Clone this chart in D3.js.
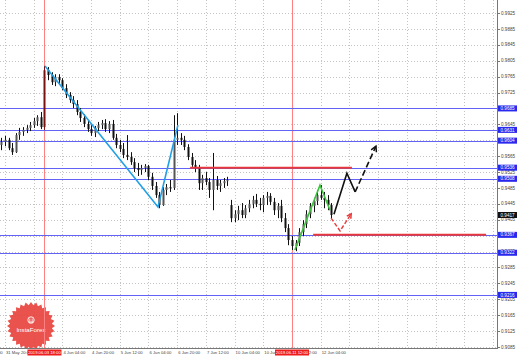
<!DOCTYPE html>
<html>
<head>
<meta charset="utf-8">
<script src="https://cdn.jsdelivr.net/npm/d3@7"></script>
<style>
  body { margin: 0; background: #fff; }
  svg { display: block; font-family: "Liberation Sans", Arial, sans-serif; }
</style>
</head>
<body>
<div id="chart"></div>
<script>
// H2 bars
var opens = [0.9593,0.9601,0.9606,0.9585,0.9575,0.9618,0.9626,0.9631,0.9636,0.9643,0.9653,0.9663,0.9638,0.9781,0.9769,0.9751,0.9764,0.9756,0.9736,0.9719,
  0.9706,0.9696,0.9676,0.9661,0.9646,0.9633,0.9623,0.9636,0.9643,0.9648,0.9633,0.9646,0.9611,0.9593,0.9583,0.9568,0.9563,0.9550,0.9535,0.9530,
  0.9535,0.9540,0.9513,0.9490,0.9467,0.9442,0.9480,0.9487,0.9485,0.9606,0.9611,0.9606,0.9588,0.9563,0.9543,0.9535,0.9497,0.9510,0.9500,0.9480,
  0.9505,0.9490,0.9497,0.9502,0.9442,0.9409,0.9419,0.9429,0.9417,0.9434,0.9445,0.9455,0.9445,0.9442,0.9460,0.9465,0.9450,0.9429,0.9440,0.9409,
  0.9384,0.9354,0.9339,0.9347,0.9374,0.9394,0.9419,0.9440,0.9452,0.9467,0.9460,0.9455,0.9442];
var highs = [0.9611,0.9616,0.9611,0.9598,0.9623,0.9636,0.9638,0.9643,0.9651,0.9661,0.9668,0.9676,0.9792,0.9789,0.9776,0.9771,0.9771,0.9761,0.9746,0.9726,
  0.9716,0.9706,0.9686,0.9671,0.9656,0.9643,0.9641,0.9651,0.9656,0.9658,0.9653,0.9656,0.9621,0.9606,0.9598,0.9618,0.9575,0.9560,0.9548,0.9543,
  0.9545,0.9543,0.9523,0.9500,0.9475,0.9487,0.9495,0.9505,0.9668,0.9673,0.9623,0.9616,0.9595,0.9573,0.9555,0.9543,0.9518,0.9525,0.9510,0.9573,
  0.9515,0.9505,0.9510,0.9513,0.9455,0.9429,0.9440,0.9447,0.9442,0.9455,0.9465,0.9470,0.9460,0.9467,0.9475,0.9472,0.9460,0.9447,0.9455,0.9422,
  0.9394,0.9364,0.9354,0.9384,0.9404,0.9429,0.9447,0.9460,0.9480,0.9492,0.9475,0.9467,0.9447];
var lows = [0.9580,0.9590,0.9580,0.9568,0.9573,0.9606,0.9616,0.9623,0.9628,0.9636,0.9641,0.9633,0.9631,0.9756,0.9744,0.9741,0.9746,0.9731,0.9711,0.9699,
  0.9686,0.9668,0.9651,0.9638,0.9626,0.9616,0.9613,0.9628,0.9633,0.9626,0.9623,0.9606,0.9585,0.9575,0.9560,0.9555,0.9543,0.9525,0.9515,0.9518,
  0.9525,0.9505,0.9480,0.9460,0.9434,0.9440,0.9467,0.9475,0.9480,0.9593,0.9593,0.9580,0.9555,0.9538,0.9525,0.9480,0.9480,0.9492,0.9460,0.9429,
  0.9480,0.9475,0.9485,0.9490,0.9399,0.9399,0.9404,0.9409,0.9409,0.9424,0.9434,0.9437,0.9429,0.9424,0.9442,0.9442,0.9417,0.9409,0.9399,0.9374,
  0.9341,0.9329,0.9326,0.9339,0.9364,0.9384,0.9409,0.9424,0.9442,0.9455,0.9434,0.9429,0.9409];
var closes = [0.9601,0.9606,0.9585,0.9575,0.9618,0.9626,0.9631,0.9636,0.9643,0.9653,0.9663,0.9638,0.9781,0.9769,0.9751,0.9764,0.9756,0.9736,0.9719,0.9706,
  0.9696,0.9676,0.9661,0.9646,0.9633,0.9623,0.9636,0.9643,0.9648,0.9633,0.9646,0.9611,0.9593,0.9583,0.9568,0.9563,0.9550,0.9535,0.9530,0.9535,
  0.9540,0.9513,0.9490,0.9467,0.9442,0.9480,0.9487,0.9485,0.9606,0.9611,0.9606,0.9588,0.9563,0.9543,0.9535,0.9497,0.9510,0.9500,0.9480,0.9505,
  0.9490,0.9497,0.9502,0.9505,0.9409,0.9419,0.9429,0.9417,0.9434,0.9445,0.9455,0.9445,0.9442,0.9460,0.9465,0.9450,0.9429,0.9440,0.9409,0.9384,
  0.9354,0.9339,0.9347,0.9374,0.9394,0.9419,0.9440,0.9452,0.9467,0.9460,0.9455,0.9442,0.9417];

var yTicks = [0.9925,0.9885,0.9845,0.9805,0.9765,0.9725,0.9685,0.9645,0.9605,0.9565,0.9525,0.9485,0.9445,0.9405,0.9365,0.9325,0.9285,0.9245,0.9205,0.9165,0.9125,0.9085];
var levels = [0.9685,0.9631,0.9604,0.9536,0.9508,0.9367,0.9322,0.9216];
var lastPrice = 0.9417;

var gridBars = [-7,1,9,17,25,33,41,49,57,65,73,81,89,97,105,113,121,129,137];
var labelBars = [-7,1,17,25,33,41,49,57,65,73,81,89];
var timeLabels = ["31 May 04:00","31 May 20:00","4 Jun 04:00","4 Jun 20:00","5 Jun 12:00","6 Jun 04:00","6 Jun 20:00",
  "7 Jun 12:00","10 Jun 04:00","10 Jun 20:00","11 Jun 12:00","12 Jun 04:00"];
var markerBars = [12, 81];
var markerLabels = ["2019.06.03 18:00", "2019.06.11 12:00"];

// drawn analysis
var blueTrend = [[12.15,0.9792],[43.65,0.9437],[49.2,0.9643]];
var greenTrend = [[81.8,0.9329],[88.8,0.9492],[91.6,0.9429]];
var redLevels = [[52.6,97.7,0.9536],[86.9,135.1,0.9367]];
var blackSolid = [[92.7,0.9419],[96.3,0.9522],[98.6,0.9475]];
var blackDashed = [[98.6,0.9475],[104.4,0.9590]];
var redArrow = [[91.9,0.9409],[94.4,0.9377],[97.5,0.9420]];

window.onload = function () {
    var width = 518, height = 359, right = 497, bottom = 348;
    var svg = d3.select("#chart").append("svg").attr("width", width).attr("height", height);
    var x = d3.scaleLinear().domain([0, 138]).range([1.4, 496.5]);
    var y = d3.scaleLinear().domain([0.9925, 0.9085]).range([13, 347]);

    svg.append("defs").append("clipPath").attr("id", "plot")
        .append("rect").attr("width", right).attr("height", bottom);
    var plot = svg.append("g").attr("clip-path", "url(#plot)");

    // grid
    plot.selectAll(".vg").data(gridBars).enter().append("line").attr("class", "vg")
        .attr("x1", function (d) { return Math.round(x(d)) + 0.5; })
        .attr("x2", function (d) { return Math.round(x(d)) + 0.5; })
        .attr("y1", 0).attr("y2", bottom)
        .attr("stroke", "#c4c4c4").attr("stroke-dasharray", "1,2");
    plot.selectAll(".hg").data(yTicks).enter().append("line").attr("class", "hg")
        .attr("x1", 0).attr("x2", right)
        .attr("y1", function (d) { return Math.round(y(d)) + 0.5; })
        .attr("y2", function (d) { return Math.round(y(d)) + 0.5; })
        .attr("stroke", "#c4c4c4").attr("stroke-dasharray", "1,2");

    // logo
    var logo = plot.append("g").attr("transform", "translate(31,326)");
    var pts = [];
    for (var k = 0; k < 56; k++) {
        var r = k % 2 ? 21 : 24, a = k * Math.PI / 28;
        pts.push([r * Math.sin(a), -r * Math.cos(a)]);
    }
    logo.append("path").attr("d", "M" + pts.join("L") + "Z").attr("fill", "#e8403a").attr("opacity", 0.9);
    logo.append("circle").attr("cx", 0).attr("cy", -6).attr("r", 3.2).attr("fill", "none").attr("stroke", "#fff").attr("stroke-width", 0.9);
    logo.append("path").attr("d", "M-1.2,-7.5V-2.5M1.2,-7.5V-2.5M-2,-4H2").attr("stroke", "#fff").attr("stroke-width", 0.7);
    logo.append("text").attr("x", 0).attr("y", 6).attr("text-anchor", "middle")
        .attr("fill", "#fff").attr("font-size", 6.2).text("InstaForex");

    // marker lines
    plot.selectAll(".mk").data(markerBars).enter().append("line").attr("class", "mk")
        .attr("x1", function (d) { return Math.round(x(d)) + 0.5; })
        .attr("x2", function (d) { return Math.round(x(d)) + 0.5; })
        .attr("y1", 0).attr("y2", bottom)
        .attr("stroke", "#ff8080").attr("stroke-width", 1);

    // blue levels
    plot.selectAll(".lv").data(levels).enter().append("line").attr("class", "lv")
        .attr("x1", 0).attr("x2", right)
        .attr("y1", function (d) { return Math.round(y(d)) + 0.5; })
        .attr("y2", function (d) { return Math.round(y(d)) + 0.5; })
        .attr("stroke", "#6262f6").attr("stroke-width", 1);

    // candles
    var bars = d3.range(closes.length);
    plot.selectAll(".wick").data(bars).enter().append("line").attr("class", "wick")
        .attr("x1", function (i) { return Math.round(x(i)) + 0.5; })
        .attr("x2", function (i) { return Math.round(x(i)) + 0.5; })
        .attr("y1", function (i) { return y(highs[i]); })
        .attr("y2", function (i) { return y(lows[i]); })
        .attr("stroke", function (i) { return i == markerBars[0] ? "#7a1010" : "#111"; })
        .attr("stroke-width", 1);
    plot.selectAll(".body").data(bars).enter().append("rect").attr("class", "body")
        .attr("x", function (i) { return Math.round(x(i)) - 0.5; })
        .attr("width", 2)
        .attr("y", function (i) { return y(Math.max(opens[i], closes[i])); })
        .attr("height", function (i) { return Math.max(1, Math.abs(y(opens[i]) - y(closes[i]))); })
        .attr("fill", function (i) { return i == markerBars[0] ? "#7a1010" : (closes[i] >= opens[i] ? "#555" : "#111"); });

    var line = d3.line().x(function (d) { return x(d[0]); }).y(function (d) { return y(d[1]); });

    plot.selectAll(".rl").data(redLevels).enter().append("line").attr("class", "rl")
        .attr("x1", function (d) { return x(d[0]); }).attr("x2", function (d) { return x(d[1]); })
        .attr("y1", function (d) { return y(d[2]); }).attr("y2", function (d) { return y(d[2]); })
        .attr("stroke", "#e8383a").attr("stroke-width", 2);

    plot.append("path").attr("d", line(blueTrend)).attr("fill", "none")
        .attr("stroke", "#22a0e6").attr("stroke-width", 1.6);
    plot.append("path").attr("d", line(greenTrend)).attr("fill", "none")
        .attr("stroke", "#3cc23c").attr("stroke-width", 1.6);

    plot.append("path").attr("d", line(blackSolid)).attr("fill", "none")
        .attr("stroke", "#111").attr("stroke-width", 1.6);
    plot.append("path").attr("d", line(blackDashed)).attr("fill", "none")
        .attr("stroke", "#111").attr("stroke-width", 1.6).attr("stroke-dasharray", "6,3");
    arrowHead(blackDashed, "#111", 6);

    plot.append("path").attr("d", line(redArrow)).attr("fill", "none")
        .attr("stroke", "#e8383a").attr("stroke-width", 1.4).attr("stroke-dasharray", "4,2");
    arrowHead(redArrow, "#e8383a", 5);

    function arrowHead(pts, color, len) {
        var a = pts[pts.length - 2], b = pts[pts.length - 1];
        var x1 = x(a[0]), y1 = y(a[1]), x2 = x(b[0]), y2 = y(b[1]);
        var ang = Math.atan2(y2 - y1, x2 - x1);
        var p1 = [x2 - len * Math.cos(ang - 0.5), y2 - len * Math.sin(ang - 0.5)];
        var p2 = [x2 - len * Math.cos(ang + 0.5), y2 - len * Math.sin(ang + 0.5)];
        plot.append("path").attr("d", "M" + p1 + "L" + x2 + "," + y2 + "L" + p2)
            .attr("fill", "none").attr("stroke", color).attr("stroke-width", 1.5);
    }

    // axes frame
    svg.append("line").attr("x1", right + 0.5).attr("x2", right + 0.5).attr("y1", 0).attr("y2", bottom + 1)
        .attr("stroke", "#777");
    svg.append("line").attr("x1", 0).attr("x2", right + 1).attr("y1", bottom + 0.5).attr("y2", bottom + 0.5)
        .attr("stroke", "#777");

    // price axis
    var yAxis = svg.append("g");
    yAxis.selectAll("line").data(yTicks).enter().append("line")
        .attr("x1", right).attr("x2", right + 3)
        .attr("y1", function (d) { return Math.round(y(d)) + 0.5; })
        .attr("y2", function (d) { return Math.round(y(d)) + 0.5; })
        .attr("stroke", "#777");
    yAxis.selectAll("text").data(yTicks).enter().append("text")
        .attr("x", right + 4).attr("y", function (d) { return y(d) + 1.6; })
        .attr("font-size", 4.6).attr("fill", "#444")
        .text(function (d) { return d3.format(".4f")(d); });

    var tags = svg.selectAll(".tag").data(levels).enter().append("g").attr("class", "tag");
    tags.append("rect").attr("x", right + 1).attr("width", 19).attr("height", 6)
        .attr("y", function (d) { return y(d) - 3; }).attr("fill", "#2828ee");
    tags.append("text").attr("x", right + 3.5).attr("y", function (d) { return y(d) + 1.6; })
        .attr("font-size", 4.6).attr("fill", "#fff")
        .text(function (d) { return d3.format(".4f")(d); });

    svg.append("rect").attr("x", right + 1).attr("width", 19).attr("height", 6)
        .attr("y", y(lastPrice) - 3).attr("fill", "#111");
    svg.append("text").attr("x", right + 3.5).attr("y", y(lastPrice) + 1.6)
        .attr("font-size", 4.6).attr("fill", "#fff").text(d3.format(".4f")(lastPrice));

    // time axis
    var xAxis = svg.append("g");
    xAxis.selectAll("text").data(timeLabels).enter().append("text")
        .attr("x", function (d, i) { return x(labelBars[i]) + 1; })
        .attr("y", bottom + 6)
        .attr("font-size", 4.2).attr("fill", "#444")
        .text(function (d) { return d; });

    var marks = svg.selectAll(".mtag").data(markerBars).enter().append("g").attr("class", "mtag");
    marks.append("rect").attr("x", function (d) { return x(d) - 17; }).attr("y", bottom + 1.5)
        .attr("width", 34).attr("height", 6).attr("fill", "#ee1c1c");
    marks.append("text").attr("x", function (d) { return x(d); }).attr("y", bottom + 6)
        .attr("text-anchor", "middle").attr("font-size", 4.2).attr("fill", "#fff")
        .text(function (d, i) { return markerLabels[i]; });
}
</script>
</body>
</html>
